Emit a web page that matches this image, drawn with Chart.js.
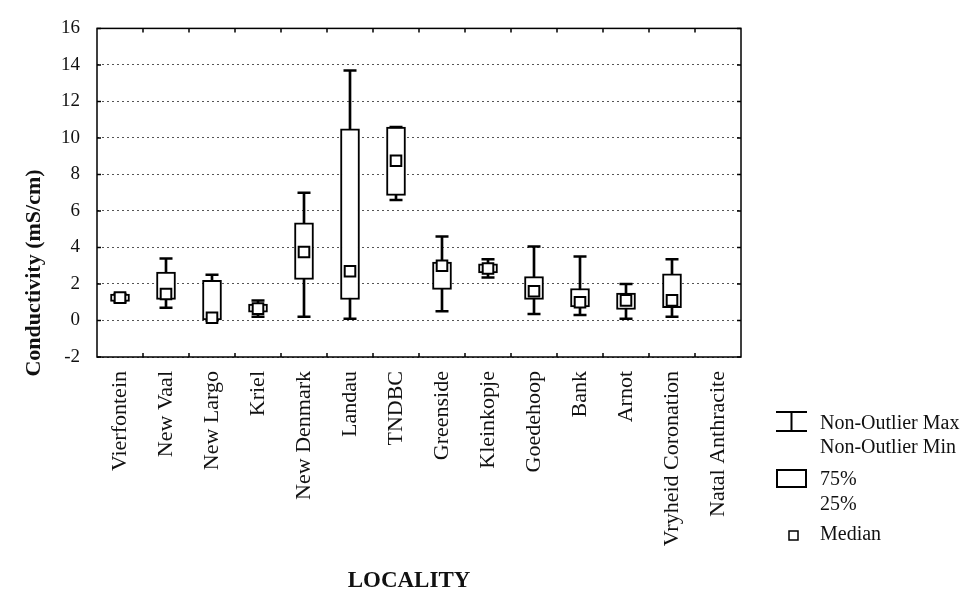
<!DOCTYPE html>
<html>
<head>
<meta charset="utf-8">
<script src="https://cdn.jsdelivr.net/npm/chart.js@4"></script>
<style>
  html, body { margin: 0; padding: 0; background: #fff; }
  #wrap { width: 979px; height: 596px; }
</style>
</head>
<body>
<div id="wrap"><canvas id="boxChart"></canvas></div>
<script>
// data (mS/cm)
const localities = ['Vierfontein', 'New Vaal', 'New Largo', 'Kriel', 'New Denmark', 'Landau', 'TNDBC',
  'Greenside', 'Kleinkopje', 'Goedehoop', 'Bank', 'Arnot', 'Vryheid Coronation', 'Natal Anthracite'];
const whiskerMin = [1.0, 0.7, 0.0, 0.2, 0.2, 0.1, 6.6, 0.5, 2.35, 0.35, 0.3, 0.1, 0.2, null];
const q1 = [1.05, 1.15, 0.0, 0.45, 2.25, 1.15, 6.85, 1.7, 2.6, 1.15, 0.75, 0.6, 0.7, null];
const medians = [1.25, 1.45, 0.15, 0.65, 3.75, 2.7, 8.75, 3.0, 2.85, 1.6, 1.0, 1.1, 1.1, null];
const q3 = [1.45, 2.65, 2.2, 0.9, 5.35, 10.5, 10.6, 3.2, 3.1, 2.4, 1.75, 1.5, 2.55, null];
const whiskerMax = [1.45, 3.4, 2.5, 1.1, 7.0, 13.7, 10.6, 4.6, 3.35, 4.05, 3.5, 2.0, 3.35, null];
const yTicks = [-2, 0, 2, 4, 6, 8, 10, 12, 14, 16];

const serif = '"Liberation Serif", "Times New Roman", serif';

const pairs = (lo, hi) => lo.map((v, i) => (v == null ? null : [v, hi[i]]));

// frame, inward ticks, axis titles and the legend
const decor = {
  id: 'decor',
  afterDraw(chart) {
    const {ctx, chartArea: a, scales: {x, y}} = chart;
    ctx.save();
    ctx.strokeStyle = '#000';
    ctx.lineWidth = 1.5;
    ctx.strokeRect(a.left, a.top, a.right - a.left, a.bottom - a.top);

    ctx.beginPath();
    for (let i = 0; i < localities.length - 1; i++) {
      const xb = (x.getPixelForValue(i) + x.getPixelForValue(i + 1)) / 2;
      ctx.moveTo(xb, a.top); ctx.lineTo(xb, a.top + 4);
      ctx.moveTo(xb, a.bottom); ctx.lineTo(xb, a.bottom - 4);
    }
    yTicks.forEach(v => {
      const yp = y.getPixelForValue(v);
      ctx.moveTo(a.left, yp); ctx.lineTo(a.left + 4, yp);
      ctx.moveTo(a.right - 4, yp); ctx.lineTo(a.right, yp);
    });
    ctx.stroke();

    ctx.fillStyle = '#111';
    ctx.textBaseline = 'middle';

    // axis titles
    ctx.font = 'bold 23px ' + serif;
    ctx.textAlign = 'center';
    ctx.fillText('LOCALITY', 409, 581);
    ctx.save();
    ctx.translate(34, 273);
    ctx.rotate(-Math.PI / 2);
    ctx.font = 'bold 22px ' + serif;
    ctx.fillText('Conductivity (mS/cm)', 0, 0);
    ctx.restore();

    // legend
    ctx.lineWidth = 2;
    ctx.beginPath();
    ctx.moveTo(776, 412); ctx.lineTo(807, 412);
    ctx.moveTo(776, 431); ctx.lineTo(807, 431);
    ctx.moveTo(791.5, 412); ctx.lineTo(791.5, 431);
    ctx.stroke();
    ctx.strokeRect(777, 470, 29, 17);
    ctx.lineWidth = 1.5;
    ctx.strokeRect(789, 531, 9, 9);

    ctx.textAlign = 'left';
    ctx.font = '20px ' + serif;
    ctx.fillText('Non-Outlier Max', 820, 424);
    ctx.fillText('Non-Outlier Min', 820, 448);
    ctx.fillText('75%', 820, 480);
    ctx.fillText('25%', 820, 505);
    ctx.fillText('Median', 820, 535);
    ctx.restore();
  }
};

new Chart(document.getElementById('boxChart'), {
  data: {
    labels: localities,
    datasets: [
      {
        type: 'line',
        order: 0,
        data: medians,
        showLine: false,
        pointStyle: 'rect',
        pointRadius: 7.5,
        pointBorderWidth: 2,
        pointBackgroundColor: '#fff',
        pointBorderColor: '#000'
      },
      {
        type: 'line',
        order: 1,
        data: whiskerMax,
        showLine: false,
        pointStyle: 'line',
        pointRadius: 6.5,
        pointBorderWidth: 2.5,
        pointBorderColor: '#000'
      },
      {
        type: 'line',
        order: 1,
        data: whiskerMin,
        showLine: false,
        pointStyle: 'line',
        pointRadius: 6.5,
        pointBorderWidth: 2.5,
        pointBorderColor: '#000'
      },
      {
        type: 'bar',
        order: 2,
        data: pairs(q1, q3),
        grouped: false,
        barThickness: 19,
        backgroundColor: '#fff',
        borderColor: '#000',
        borderWidth: 2,
        borderSkipped: false
      },
      {
        type: 'bar',
        order: 3,
        data: pairs(whiskerMin, whiskerMax),
        grouped: false,
        barThickness: 2,
        backgroundColor: '#000',
        borderWidth: 0
      }
    ]
  },
  options: {
    responsive: true,
    maintainAspectRatio: false,
    animation: false,
    layout: { padding: { left: 0, top: 17, right: 238, bottom: 0 } },
    plugins: { legend: { display: false }, tooltip: { enabled: false } },
    scales: {
      x: {
        type: 'category',
        offset: true,
        grid: { display: false, drawTicks: false },
        border: { display: false },
        ticks: {
          autoSkip: false,
          minRotation: 90,
          maxRotation: 90,
          padding: 14,
          color: '#111',
          font: { family: serif, size: 22 }
        },
        afterFit(scale) { scale.height = 239; }
      },
      y: {
        min: -2,
        max: 16,
        afterBuildTicks(scale) { scale.ticks = yTicks.map(v => ({ value: v })); },
        grid: { color: '#555', lineWidth: 1, drawTicks: false },
        border: { display: false, dash: [2, 3] },
        ticks: {
          padding: 17,
          color: '#111',
          font: { family: serif, size: 19 }
        },
        afterFit(scale) { scale.width = 97; }
      }
    }
  },
  plugins: [decor]
});
</script>
</body>
</html>
